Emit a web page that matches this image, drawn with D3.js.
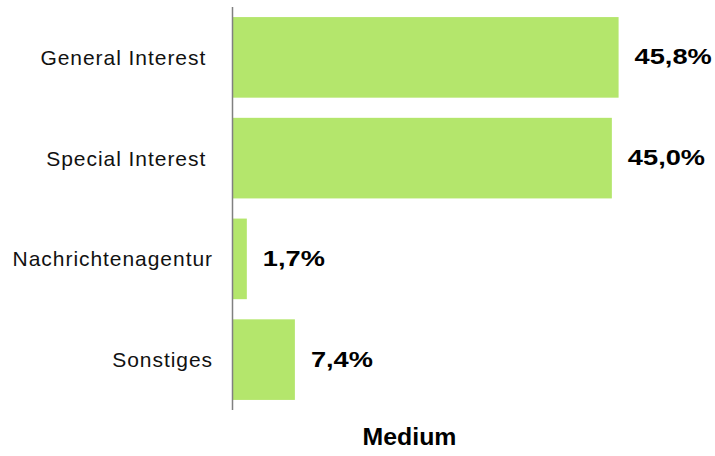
<!DOCTYPE html>
<html>
<head>
<meta charset="utf-8">
<script src="https://cdn.jsdelivr.net/npm/d3@7/dist/d3.min.js"></script>
<style>
  html, body { margin: 0; padding: 0; background: #fff; }
  svg { display: block; font-family: "Liberation Sans", Arial, Helvetica, sans-serif; }
</style>
</head>
<body>
<svg id="chart" width="715" height="456"></svg>
<script>
// Share of articles by medium type (percent)
const categories = ["General Interest ", "Special Interest ", "Nachrichtenagentur", "Sonstiges"];
const shares = [45.8, 45.0, 1.7, 7.4];
const valueLabels = ["45,8%", "45,0%", "1,7%", "7,4%"];
const axisTitle = "Medium";

const svg = d3.select("#chart");
const x0 = 232.5, plotTop = 7, plotBottom = 410;

const x = d3.scaleLinear().domain([0, 50]).range([x0, x0 + 8.43 * 50]);
const y = d3.scaleBand().domain(categories).range([plotTop, plotBottom])
  .paddingInner(0.2).paddingOuter(0.1);

const data = categories.map((c, i) => ({ cat: c, v: shares[i], label: valueLabels[i] }));

// bars
svg.append("g").selectAll("rect").data(data).join("rect")
  .attr("x", x(0))
  .attr("y", d => y(d.cat))
  .attr("width", d => x(d.v) - x(0))
  .attr("height", y.bandwidth())
  .attr("fill", "#b4e66c");

// category axis: vertical line with the labels to its left
const axis = svg.append("g")
  .attr("transform", `translate(${x0},0)`)
  .call(d3.axisLeft(y).tickSize(0).tickPadding(19.5));
axis.select(".domain").attr("stroke", "#808080").attr("stroke-width", 1.5)
  .attr("d", `M0,${plotTop}V${plotBottom}`);
axis.selectAll(".tick text")
  .attr("font-size", 21)
  .attr("fill", "#111")
  .attr("font-family", "'Liberation Sans', Arial, sans-serif")
  .style("letter-spacing", "0.95px")
  .style("white-space", "pre")
  .attr("dy", "0.36em");

// value labels, slightly widened type
const sx = 1.21;
svg.append("g").selectAll("text").data(data).join("text")
  .attr("transform", d => `translate(${x(d.v) + 16},${y(d.cat) + y.bandwidth() / 2 - 1}) scale(${sx},1)`)
  .attr("dy", "0.36em")
  .attr("font-size", 22.5)
  .attr("font-weight", "bold")
  .attr("fill", "#000")
  .text(d => d.label);

// axis title
svg.append("text")
  .attr("transform", "translate(409.5,445) scale(1.08,1)")
  .attr("text-anchor", "middle")
  .attr("font-size", 23)
  .attr("font-weight", "bold")
  .attr("fill", "#000")
  .text(axisTitle);
</script>
</body>
</html>
